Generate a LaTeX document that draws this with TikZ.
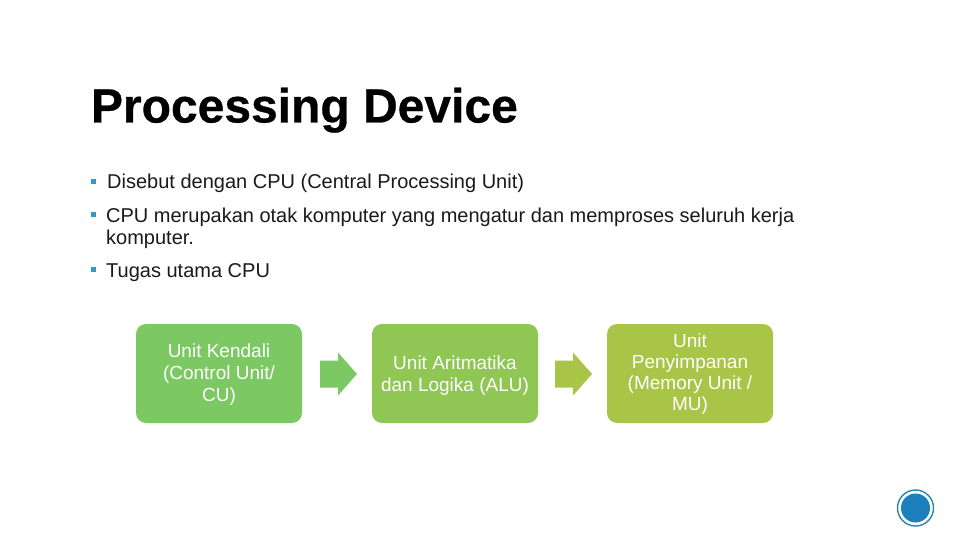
\documentclass[tikz,border=0pt]{standalone}
\usepackage{fontspec}
\setmainfont{Liberation Sans}
\newfontfamily\ttlfont[FakeBold=0.6]{Liberation Sans Bold}
\definecolor{gA}{HTML}{7CC964}
\definecolor{gB}{HTML}{8FC654}
\definecolor{gC}{HTML}{A8C548}
\definecolor{bul}{HTML}{2F9BC6}
\definecolor{disc}{HTML}{1B80BC}
\definecolor{ring}{HTML}{2A86A8}
\definecolor{ink}{HTML}{1A1A1A}
\tikzset{
  x=1pt,y=-1pt,
  box/.style={fill=#1,rounded corners=10pt,minimum width=166pt,minimum height=99pt,inner sep=0pt,text=white,align=center,
     font=\fontsize{19}{22}\selectfont},
  body/.style={anchor=base west,inner sep=0pt,text=ink,font=\fontsize{20}{21}\selectfont,align=left},
  bullet/.style={fill=bul,minimum size=5pt,inner sep=0pt},
  ttl/.style={anchor=base west,inner sep=0pt,text=black,font=\fontsize{48}{50}\selectfont\ttlfont},
}
\newcommand{\blockarrow}[3]{% colour, x, ycentre
  \fill[#1] (#2,#3-13) -- ++(18,0) -- ++(0,-8) -- ++(19,21.5) -- ++(-19,21.5) -- ++(0,-8) -- ++(-18,0) -- cycle;}
\begin{document}
\begin{tikzpicture}
\useasboundingbox (0,0) rectangle (960,540);
\fill[white] (0,0) rectangle (960,540);
\node[ttl] (title) at (90.8,122.5) {Processing Device};
\node[bullet] (b1) at (93,181.5) {};
\node[body] (t1) at (107,188) {Disebut dengan CPU (Central Processing Unit)};
\node[bullet] (b2) at (93,214.5) {};
\node[body] (t2a) at (106,222) {CPU merupakan otak komputer yang mengatur dan memproses seluruh kerja};
\node[body] (t2b) at (106,244) {komputer.};
\node[bullet] (b3) at (93,269.5) {};
\node[body] (t3) at (106,277) {Tugas utama CPU};
\node[box=gA] (u1) at (219,373.5) {\rule{0pt}{16pt}Unit Kendali\\(Control Unit/\\CU)};
\node[box=gB] (u2) at (455,373.5) {\rule{0pt}{17pt}Unit Aritmatika\\dan Logika (ALU)};
\node[box=gC,font=\fontsize{19}{20.8}\selectfont] (u3) at (690,373.5) {\rule{0pt}{15pt}Unit\\Penyimpanan\\(Memory Unit /\\MU)};
\blockarrow{gA}{320}{373.5}
\blockarrow{gC}{555}{373.5}
\node[circle,draw=ring,line width=1.4pt,fill=white,minimum size=36pt,inner sep=0pt] (r) at (915.5,508) {};
\node[circle,fill=disc,minimum size=29pt,inner sep=0pt] (d) at (915.5,508) {};
\end{tikzpicture}
\end{document}
